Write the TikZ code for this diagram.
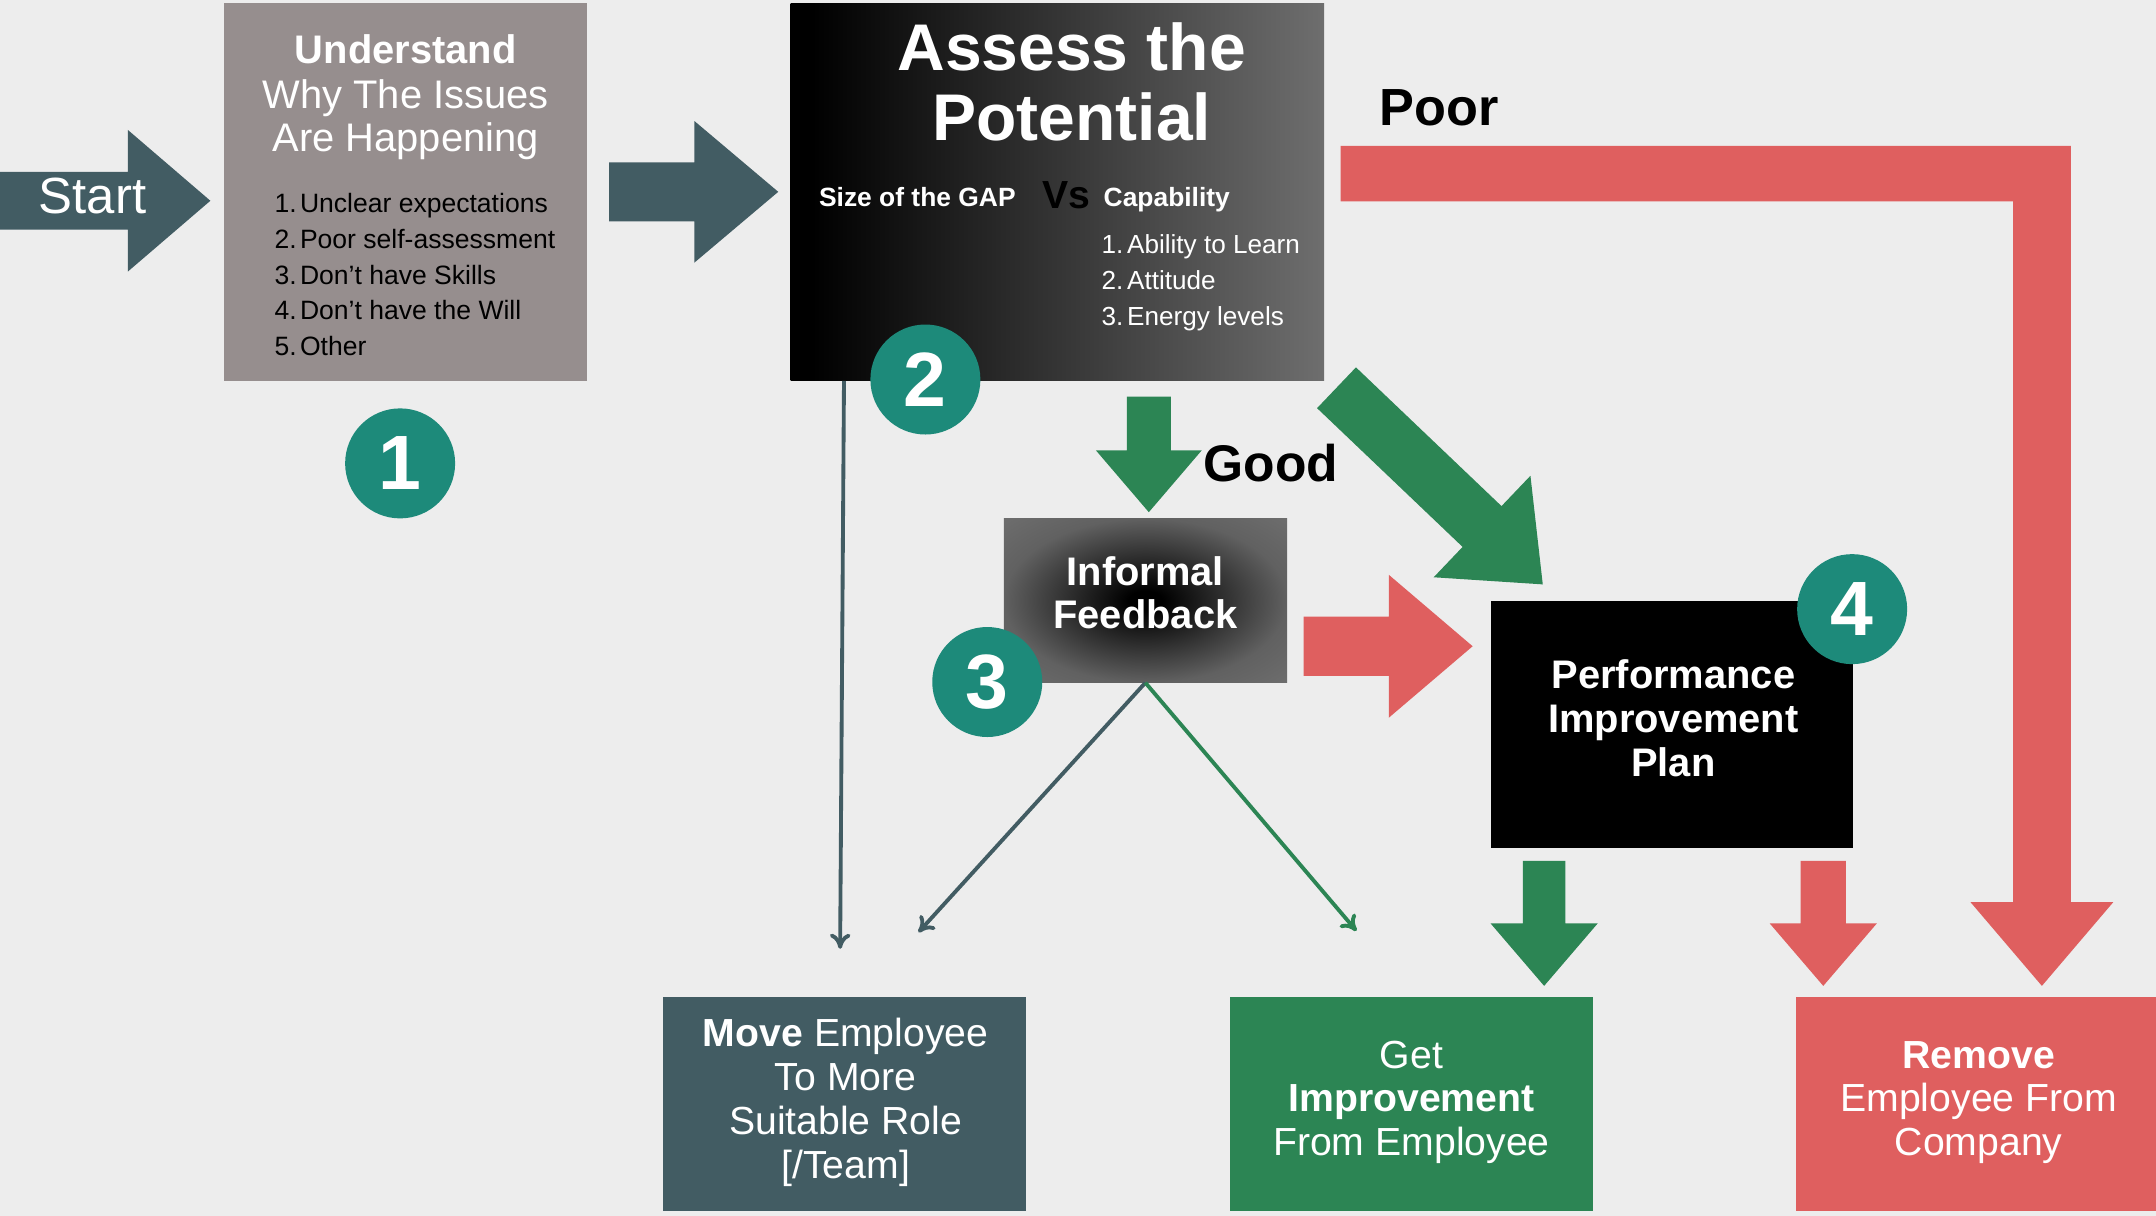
\documentclass[tikz,border=0pt]{standalone}
\usepackage{fontspec}
\setmainfont{Liberation Sans}
\usetikzlibrary{arrows.meta,calc}

\definecolor{cbg}{HTML}{EDEDED}
\definecolor{cslate}{HTML}{425C63}
\definecolor{cteal}{HTML}{1D8A7A}
\definecolor{cgreen}{HTML}{2C8554}
\definecolor{cred}{HTML}{DF5F5F}
\definecolor{cgrey}{HTML}{968E8E}
\definecolor{cmid}{HTML}{6E6E6E}

% the shaded path spans 25bp..75bp of these shadings
\pgfdeclarehorizontalshading{assessfade}{100bp}{color(0bp)=(black); color(27bp)=(black); color(75bp)=(cmid); color(100bp)=(cmid)}
\pgfdeclareradialshading{fbglow}{\pgfpoint{0bp}{0bp}}{color(0bp)=(black); color(3bp)=(black); color(25bp)=(cmid!88!black); color(36bp)=(cmid); color(50bp)=(cmid)}

\newcommand\fsz[1]{\fontsize{#1}{#1}\selectfont}
\newcommand\listline[2]{\makebox[18.5pt][l]{#1}#2}
% block arrow: tail, tip, body half width, head half width, head length, colour
\newcommand\blockarrow[6]{%
  \path ($(#2)!#5!(#1)$) coordinate (bh);
  \fill[#6] ($(#1)!#3!90:(#2)$) -- ($(bh)!#3!90:(#2)$) -- ($(bh)!#4!90:(#2)$)
    -- (#2) -- ($(bh)!#4!-90:(#2)$) -- ($(bh)!#3!-90:(#2)$) -- ($(#1)!#3!-90:(#2)$) -- cycle;}

\begin{document}
\begin{tikzpicture}[x=1pt,y=-1pt,
  boxnode/.style={inner sep=0pt, outer sep=0pt, anchor=north west, draw=none},
  tw/.style={inner sep=0pt, anchor=base, text=white},
  twl/.style={inner sep=0pt, anchor=base west, text=white},
  tbl/.style={inner sep=0pt, anchor=base west, text=black},
  num/.style={circle, fill=cteal, minimum size=80pt, inner sep=0pt, text=white, font=\fsz{56}\bfseries},
  link/.style={line width=2.8pt, -{To[length=11pt,width=15pt]}}]

\fill[cbg] (0,0) rectangle (1568,884);
\useasboundingbox (0,0) rectangle (1568,884);

% boxes
\node[boxnode, fill=cgrey, minimum width=264pt, minimum height=274.5pt] (understand) at (163,2.5) {};
\node[boxnode, shade, shading=assessfade, minimum width=388pt, minimum height=274.5pt] (assess) at (575,2.5) {};
\node[boxnode, shade, shading=fbglow, minimum width=206pt, minimum height=119.5pt] (informal) at (730,377) {};
\node[boxnode, fill=black, minimum width=263.5pt, minimum height=180pt] (pip) at (1084,437) {};
\node[boxnode, fill=cslate, minimum width=264pt, minimum height=156pt] (move) at (482.5,725) {};
\node[boxnode, fill=cgreen, minimum width=264pt, minimum height=156pt] (getimp) at (894.5,725) {};
\node[boxnode, fill=cred, minimum width=261.5pt, minimum height=156pt] (remove) at (1306.5,725) {};

% block arrows
\coordinate (startT) at (0,146);      \coordinate (startP) at (153,146);
\coordinate (a12T) at (443,139.5);    \coordinate (a12P) at (566,139.5);
\coordinate (goodT) at (835.5,288.5); \coordinate (goodP) at (835.5,372.5);
\coordinate (diagT) at (972,282);     \coordinate (diagP) at (1122,425);
\coordinate (fbT) at (948,470);       \coordinate (fbP) at (1071,470);
\coordinate (gdT) at (1123,626);      \coordinate (gdP) at (1123,717);
\coordinate (rdT) at (1326,626);      \coordinate (rdP) at (1326,717);
\blockarrow{startT}{startP}{21pt}{51.5pt}{60pt}{cslate}
\blockarrow{a12T}{a12P}{21.5pt}{51.5pt}{61pt}{cslate}
\blockarrow{goodT}{goodP}{16pt}{38.5pt}{45pt}{cgreen}
\blockarrow{diagT}{diagP}{20.5pt}{51pt}{61pt}{cgreen}
\blockarrow{fbT}{fbP}{21.5pt}{52pt}{61pt}{cred}
\blockarrow{gdT}{gdP}{15.5pt}{39pt}{45.5pt}{cgreen}
\blockarrow{rdT}{rdP}{16.5pt}{39pt}{45.5pt}{cred}

% the "Poor" route
\fill[cred] (975,106) -- (1506,106) -- (1506,656) -- (1537,656) -- (1485,717)
  -- (1433,656) -- (1464,656) -- (1464,146.5) -- (975,146.5) -- cycle;

% thin connectors
\coordinate (moveEnd) at (611,690);
\coordinate (fbMove) at (668,678);
\coordinate (fbGet) at (986.5,677);
\draw[link, cslate] ($(assess.south west)!0.1!(assess.south east)$) -- (moveEnd);
\draw[link, cslate] (informal.south) -- (fbMove);
\draw[link, cgreen] (informal.south) -- (fbGet);

% step numbers
\node[num] (n1) at (291,337) {1};
\node[num] (n2) at (673,276) {2};
\node[num] (n3) at (718,496) {3};
\node[num] (n4) at (1347,443) {4};

% texts
\node[twl, font=\fsz{37}] (tstart) at (28,155) {Start};

\node[tw, font=\fsz{29}\bfseries] (u1) at (295,46.5) {Understand};
\node[tw, font=\fsz{29}] (u2) at (295,79) {Why The Issues};
\node[tw, font=\fsz{29}] (u3) at (295,110.5) {Are Happening};
\node[tbl, font=\fsz{19.3}] (ul1) at (199.5,154.7) {\listline{1.}{Unclear expectations}};
\node[tbl, font=\fsz{19.3}] (ul2) at (199.5,180.7) {\listline{2.}{Poor self-assessment}};
\node[tbl, font=\fsz{19.3}] (ul3) at (199.5,206.7) {\listline{3.}{Don’t have Skills}};
\node[tbl, font=\fsz{19.3}] (ul4) at (199.5,232.7) {\listline{4.}{Don’t have the Will}};
\node[tbl, font=\fsz{19.3}] (ul5) at (199.5,258.7) {\listline{5.}{Other}};

\node[tw, font=\fsz{48}\bfseries] (a1) at (779.5,51.5) {Assess the};
\node[tw, font=\fsz{48}\bfseries] (a2) at (779.5,102) {Potential};
\node[twl, font=\fsz{19.2}\bfseries] (gap) at (595.5,150) {Size of the GAP};
\node[tbl, font=\fsz{28.5}\bfseries] (vs) at (758,151.5) {Vs};
\node[twl, font=\fsz{19.2}\bfseries] (cap) at (802.5,150) {Capability};
\node[twl, font=\fsz{19}] (al1) at (801,184.2) {\listline{1.}{Ability to Learn}};
\node[twl, font=\fsz{19}] (al2) at (801,210.3) {\listline{2.}{Attitude}};
\node[twl, font=\fsz{19}] (al3) at (801,236.4) {\listline{3.}{Energy levels}};

\node[tbl, font=\fsz{38}\bfseries] (poor) at (1003,91.4) {Poor};
\node[tbl, font=\fsz{37.5}\bfseries] (good) at (875,350.3) {Good};

\node[tw, font=\fsz{29}\bfseries] (f1) at (833,425.5) {Informal};
\node[tw, font=\fsz{29}\bfseries] (f2) at (833,457) {Feedback};

\node[tw, font=\fsz{29}\bfseries] (p1) at (1217,500.6) {Performance};
\node[tw, font=\fsz{29}\bfseries] (p2) at (1217,532.6) {Improvement};
\node[tw, font=\fsz{29}\bfseries] (p3) at (1217,564.4) {Plan};

\node[tw, font=\fsz{28.5}] (m1) at (615,761) {\textbf{Move} Employee};
\node[tw, font=\fsz{28.5}] (m2) at (615,793) {To More};
\node[tw, font=\fsz{28.5}] (m3) at (615,825) {Suitable Role};
\node[tw, font=\fsz{28.5}] (m4) at (615,857) {[/Team]};

\node[tw, font=\fsz{28.5}] (g1) at (1026.5,777) {Get};
\node[tw, font=\fsz{28.5}\bfseries] (g2) at (1026.5,808.5) {Improvement};
\node[tw, font=\fsz{28.5}] (g3) at (1026.5,840) {From Employee};

\node[tw, font=\fsz{28.5}\bfseries] (r1) at (1439,777) {Remove};
\node[tw, font=\fsz{28.5}] (r2) at (1439,808.5) {Employee From};
\node[tw, font=\fsz{28.5}] (r3) at (1439,840) {Company};
\end{tikzpicture}
\end{document}
